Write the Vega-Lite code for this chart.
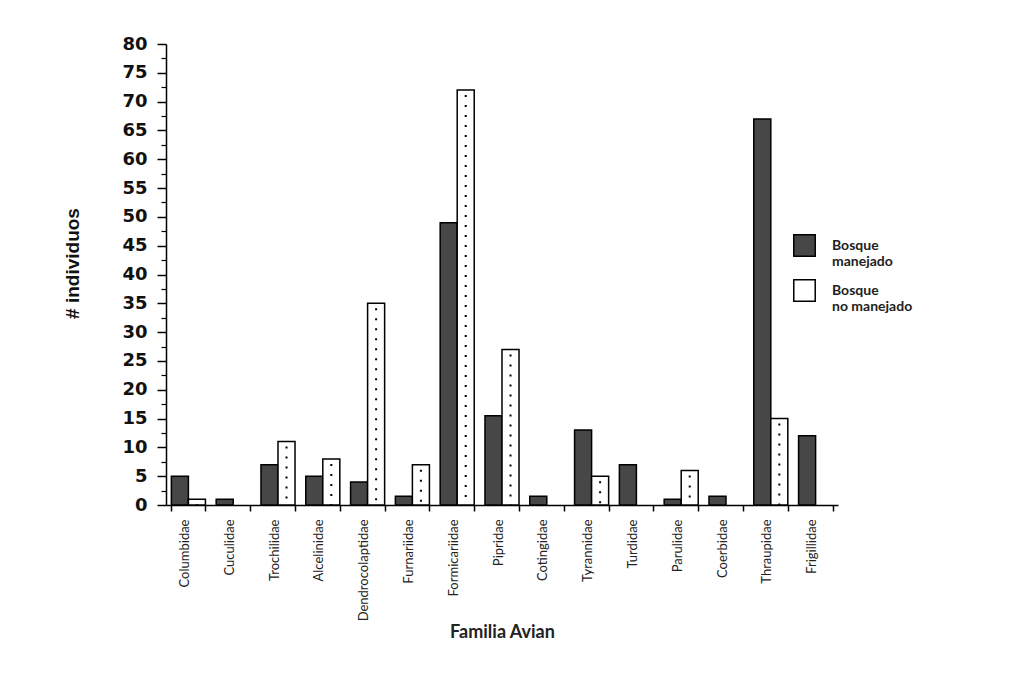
{
  "$schema": "https://vega.github.io/schema/vega-lite/v6.json",
  "autosize": "none",
  "width": 672,
  "height": 461,
  "padding": {"left": 166, "top": 44, "right": 178, "bottom": 175},
  "background": "white",
  "config": {"view": {"stroke": null}},
  "data": {"values": [
    {"familia": "Columbidae", "tipo": "Bosque manejado", "n": 5},
    {"familia": "Columbidae", "tipo": "Bosque no manejado", "n": 1},
    {"familia": "Cuculidae", "tipo": "Bosque manejado", "n": 1},
    {"familia": "Trochilidae", "tipo": "Bosque manejado", "n": 7},
    {"familia": "Trochilidae", "tipo": "Bosque no manejado", "n": 11},
    {"familia": "Alcelinidae", "tipo": "Bosque manejado", "n": 5},
    {"familia": "Alcelinidae", "tipo": "Bosque no manejado", "n": 8},
    {"familia": "Dendrocolaptidae", "tipo": "Bosque manejado", "n": 4},
    {"familia": "Dendrocolaptidae", "tipo": "Bosque no manejado", "n": 35},
    {"familia": "Furnariidae", "tipo": "Bosque manejado", "n": 1.5},
    {"familia": "Furnariidae", "tipo": "Bosque no manejado", "n": 7},
    {"familia": "Formicariidae", "tipo": "Bosque manejado", "n": 49},
    {"familia": "Formicariidae", "tipo": "Bosque no manejado", "n": 72},
    {"familia": "Pipridae", "tipo": "Bosque manejado", "n": 15.5},
    {"familia": "Pipridae", "tipo": "Bosque no manejado", "n": 27},
    {"familia": "Cotingidae", "tipo": "Bosque manejado", "n": 1.5},
    {"familia": "Tyrannidae", "tipo": "Bosque manejado", "n": 13},
    {"familia": "Tyrannidae", "tipo": "Bosque no manejado", "n": 5},
    {"familia": "Turdidae", "tipo": "Bosque manejado", "n": 7},
    {"familia": "Parulidae", "tipo": "Bosque manejado", "n": 1},
    {"familia": "Parulidae", "tipo": "Bosque no manejado", "n": 6},
    {"familia": "Coerbidae", "tipo": "Bosque manejado", "n": 1.5},
    {"familia": "Thraupidae", "tipo": "Bosque manejado", "n": 67},
    {"familia": "Thraupidae", "tipo": "Bosque no manejado", "n": 15},
    {"familia": "Frigillidae", "tipo": "Bosque manejado", "n": 12}
  ]},
  "encoding": {
    "x": {
      "field": "familia", "type": "nominal", "sort": null,
      "scale": {"paddingInner": 0.24, "paddingOuter": 0.12},
      "axis": {
        "title": "Familia Avian", "titleFont": "Lato", "titleFontSize": 18, "titleFontWeight": "bold",
        "titleColor": "#222", "titlePadding": 3,
        "labelAngle": -90, "labelFont": "Lato", "labelFontSize": 13, "labelColor": "#222",
        "labelPadding": 8, "labelOffset": -4, "tickBand": "extent", "tickSize": 6, "tickColor": "black", "tickWidth": 1.5,
        "domainColor": "black", "domainWidth": 1.5
      }
    },
    "xOffset": {"field": "tipo", "type": "nominal", "scale": {"domain": ["Bosque manejado", "Bosque no manejado"]}},
    "y": {
      "field": "n", "type": "quantitative",
      "scale": {"domain": [0, 80], "nice": false},
      "axis": {
        "title": "# individuos", "titleFont": "Liberation Sans", "titleFontSize": 19, "titleFontWeight": "bold",
        "titleColor": "#111", "titlePadding": 39, "titleY": 219,
        "values": [0, 5, 10, 15, 20, 25, 30, 35, 40, 45, 50, 55, 60, 65, 70, 75, 80],
        "labelFont": "DejaVu Sans", "labelFontWeight": "bold", "labelFontSize": 18, "labelColor": "#111",
        "labelPadding": 10, "tickSize": 9, "tickColor": "black", "tickWidth": 1.5,
        "domainColor": "black", "domainWidth": 1.5, "grid": false
      }
    }
  },
  "layer": [
    {
      "mark": {"type": "bar", "stroke": "black", "strokeWidth": 1.5},
      "encoding": {
        "fill": {
          "field": "tipo", "type": "nominal",
          "scale": {"domain": ["Bosque manejado", "Bosque no manejado"], "range": ["#474747", "#ffffff"]},
          "legend": {
            "title": null, "orient": "none", "legendX": 627, "legendY": 190,
            "symbolType": "square", "symbolSize": 460, "symbolStrokeColor": "black", "symbolStrokeWidth": 1.5,
            "labelFont": "Lato", "labelFontWeight": "bold", "labelFontSize": 14, "labelColor": "#222",
            "labelOffset": 16, "labelLineHeight": 18, "rowPadding": 7, "labelLimit": 200,
            "labelExpr": "datum.label == 'Bosque manejado' ? ['Bosque', 'manejado'] : ['Bosque', 'no manejado']"
          }
        }
      }
    },
    {
      "transform": [{"filter": "datum.tipo == 'Bosque no manejado'"}],
      "mark": {"type": "rule", "color": "black", "strokeWidth": 2, "strokeDash": [2, 8], "strokeDashOffset": -5},
      "encoding": {
        "y2": {"datum": 0},
        "y": {
          "field": "n", "type": "quantitative",
          "axis": {
            "orient": "left", "title": null, "labels": false, "domain": false, "grid": false,
            "values": [2.5, 7.5, 12.5, 17.5, 22.5, 27.5, 32.5, 37.5, 42.5, 47.5, 52.5, 57.5, 62.5, 67.5, 72.5, 77.5],
            "tickSize": 5, "tickColor": "black", "tickWidth": 1.2
          }
        }
      }
    }
  ],
  "resolve": {"axis": {"y": "independent"}}
}
